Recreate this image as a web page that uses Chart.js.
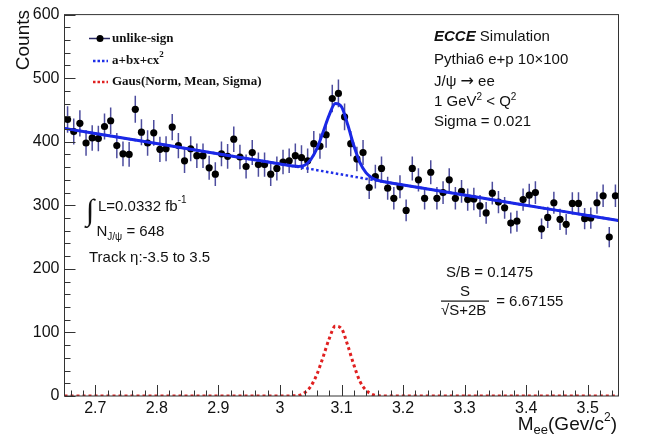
<!DOCTYPE html>
<html>
<head>
<meta charset="utf-8">
<script src="https://cdn.jsdelivr.net/npm/chart.js@4.4.0/dist/chart.umd.min.js"></script>
<style>
  html, body { margin: 0; padding: 0; background: #fff; }
</style>
</head>
<body>
<canvas id="massChart" width="648" height="438"></canvas>
<script>
// histogram bins (centres) and counts
const binCenters = [
  2.655, 2.665, 2.675, 2.685, 2.695, 2.705, 2.715, 2.725, 2.735, 2.745,
  2.755, 2.765, 2.775, 2.785, 2.795, 2.805, 2.815, 2.825, 2.835, 2.845,
  2.855, 2.865, 2.875, 2.885, 2.895, 2.905, 2.915, 2.925, 2.935, 2.945,
  2.955, 2.965, 2.975, 2.985, 2.995, 3.005, 3.015, 3.025, 3.035, 3.045,
  3.055, 3.065, 3.075, 3.085, 3.095, 3.105, 3.115, 3.125, 3.135, 3.145,
  3.155, 3.165, 3.175, 3.185, 3.195, 3.205, 3.215, 3.225, 3.235, 3.245,
  3.255, 3.265, 3.275, 3.285, 3.295, 3.305, 3.315, 3.325, 3.335, 3.345,
  3.355, 3.365, 3.375, 3.385, 3.395, 3.405, 3.415, 3.425, 3.435, 3.445,
  3.455, 3.465, 3.475, 3.485, 3.495, 3.505, 3.515, 3.525, 3.535, 3.545
];
const counts = [
  435, 416, 429, 398, 406, 405, 424, 433, 394, 381,
  380, 451, 415, 398, 414, 388, 389, 423, 394, 370,
  389, 378, 378, 359, 349, 381, 377, 404, 376, 361,
  383, 364, 364, 349, 358, 368, 370, 378, 375, 370,
  397, 393, 411, 468, 476, 439, 397, 373, 383, 328,
  345, 358, 327, 311, 329, 292, 358, 340, 311, 352,
  311, 320, 340, 311, 322, 309, 310, 299, 288, 319,
  305, 296, 272, 275, 309, 316, 320, 263, 281, 304,
  278, 270, 303, 303, 279, 280, 304, 315, 250, 315
];
const countErrors = [
  20.9, 20.4, 20.7, 19.9, 20.1, 20.1, 20.6, 20.8, 19.8, 19.5,
  19.5, 21.2, 20.4, 19.9, 20.3, 19.7, 19.7, 20.6, 19.8, 19.2,
  19.7, 19.4, 19.4, 18.9, 18.7, 19.5, 19.4, 20.1, 19.4, 19.0,
  19.6, 19.1, 19.1, 18.7, 18.9, 19.2, 19.2, 19.4, 19.4, 19.2,
  19.9, 19.8, 20.3, 21.6, 21.8, 21.0, 19.9, 19.3, 19.6, 18.1,
  18.6, 18.9, 18.1, 17.6, 18.1, 17.1, 18.9, 18.4, 17.6, 18.8,
  17.6, 17.9, 18.4, 17.6, 17.9, 17.6, 17.6, 17.3, 17.0, 17.9,
  17.5, 17.2, 16.5, 16.6, 17.6, 17.8, 17.9, 16.2, 16.8, 17.4,
  16.7, 16.4, 17.4, 17.4, 16.7, 16.7, 17.4, 17.7, 15.8, 17.7
];

// background fit a+bx+cx^2
const bgX = [2.65, 2.75, 2.85, 2.95, 3.05, 3.15, 3.25, 3.35, 3.45, 3.55];
const bgY = [421, 405, 389, 373, 357, 340, 324, 308, 292, 276];

// gaussian part (red dotted curve)
const gausX = [2.65, 3.0, 3.02, 3.03, 3.04, 3.05, 3.06, 3.07, 3.08, 3.09, 3.1, 3.11, 3.12, 3.13, 3.14, 3.15, 3.16, 3.17, 3.2, 3.55];
const gausY = [0, 0, 0.3, 1, 5, 15, 34, 61, 90, 110, 106, 80, 49, 23, 9, 2.5, 0.5, 0, 0, 0];

// total fit (solid blue)
const fitX = [2.65, 2.75, 2.85, 2.95, 3.0, 3.02, 3.03, 3.04, 3.05, 3.06, 3.07, 3.08, 3.09, 3.1, 3.11, 3.12, 3.13, 3.14, 3.15, 3.16, 3.17, 3.25, 3.35, 3.45, 3.55];
const fitY = [421, 405, 389, 373, 365, 362, 361, 363, 372, 389, 415, 442, 460, 455, 427, 394, 367, 351, 343, 339, 337, 324, 308, 292, 276];

const xTickValues = [2.7, 2.8, 2.9, 3.0, 3.1, 3.2, 3.3, 3.4, 3.5];
const yTickValues = [0, 100, 200, 300, 400, 500, 600];

const SANS = '"Liberation Sans", Arial, Helvetica, sans-serif';
const SERIF = '"Liberation Serif", "Times New Roman", serif';

function pairs(xs, ys) {
  return xs.map((x, i) => ({ x: x, y: ys[i] }));
}

// draws a row of text pieces, each with its own font and vertical shift
function drawPieces(ctx, x, y, pieces, align) {
  let total = 0;
  pieces.forEach(p => { ctx.font = p.font; p.w = ctx.measureText(p.text).width; total += p.w; });
  let cx = align === 'right' ? x - total : x;
  ctx.textAlign = 'left';
  pieces.forEach(p => {
    ctx.font = p.font;
    ctx.fillText(p.text, cx, y + (p.dy || 0));
    cx += p.w;
  });
  return total;
}

const errorBars = {
  id: 'errorBars',
  beforeDatasetsDraw(chart) {
    const { ctx, scales: { x, y } } = chart;
    ctx.save();
    ctx.strokeStyle = '#4d4d9e';
    ctx.lineWidth = 1.5;
    ctx.beginPath();
    for (let i = 0; i < binCenters.length; i++) {
      const px = x.getPixelForValue(binCenters[i]);
      ctx.moveTo(px, y.getPixelForValue(counts[i] + countErrors[i]));
      ctx.lineTo(px, y.getPixelForValue(counts[i] - countErrors[i]));
    }
    ctx.stroke();
    ctx.restore();
  }
};

// ROOT style frame with ticks pointing inward
const frameTicks = {
  id: 'frameTicks',
  afterDraw(chart) {
    const { ctx, chartArea: a, scales: { x, y } } = chart;
    ctx.save();
    ctx.strokeStyle = '#333';
    ctx.lineWidth = 1;
    ctx.strokeRect(a.left, a.top, a.right - a.left, a.bottom - a.top);
    ctx.beginPath();
    for (let v = 0; v <= 600; v += 20) {
      const py = Math.round(y.getPixelForValue(v)) + 0.5;
      const len = v % 100 === 0 ? 11 : 6;
      ctx.moveTo(a.left, py);
      ctx.lineTo(a.left + len, py);
    }
    for (let k = 133; k <= 177; k++) {
      const v = k / 50;
      const px = Math.round(x.getPixelForValue(v)) + 0.5;
      const len = k % 5 === 0 ? 11 : 5.5;
      ctx.moveTo(px, a.bottom);
      ctx.lineTo(px, a.bottom - len);
    }
    ctx.stroke();
    ctx.restore();
  }
};

const annotations = {
  id: 'annotations',
  afterDraw(chart) {
    const ctx = chart.ctx;
    ctx.save();
    ctx.fillStyle = '#111';
    ctx.textBaseline = 'middle';

    // axis titles
    ctx.save();
    ctx.translate(24, 10);
    ctx.rotate(-Math.PI / 2);
    ctx.font = '19px ' + SANS;
    ctx.textAlign = 'right';
    ctx.fillText('Counts', 0, 0);
    ctx.restore();

    drawPieces(ctx, 617, 425, [
      { text: 'M', font: '19px ' + SANS },
      { text: 'ee', font: '13px ' + SANS, dy: 5 },
      { text: '(Gev/c', font: '19px ' + SANS },
      { text: '2', font: '12px ' + SANS, dy: -7 },
      { text: ')', font: '19px ' + SANS }
    ], 'right');

    // legend
    const lf = 'bold 13px ' + SERIF;
    ctx.strokeStyle = '#2a2a66';
    ctx.lineWidth = 1.5;
    ctx.beginPath();
    ctx.moveTo(89, 38.5); ctx.lineTo(110, 38.5);
    ctx.stroke();
    ctx.beginPath();
    ctx.arc(100, 38.5, 3.5, 0, Math.PI * 2);
    ctx.fillStyle = '#000';
    ctx.fill();
    ctx.fillStyle = '#111';
    drawPieces(ctx, 112, 38.5, [{ text: 'unlike-sign', font: lf }]);

    ctx.lineWidth = 2.5;
    ctx.setLineDash([2.5, 2]);
    ctx.strokeStyle = '#1f2fe8';
    ctx.beginPath(); ctx.moveTo(93, 61); ctx.lineTo(108, 61); ctx.stroke();
    ctx.strokeStyle = '#e02020';
    ctx.beginPath(); ctx.moveTo(93, 82); ctx.lineTo(108, 82); ctx.stroke();
    ctx.setLineDash([]);
    drawPieces(ctx, 112, 61, [
      { text: 'a+bx+cx', font: lf },
      { text: '2', font: 'bold 9px ' + SERIF, dy: -6 }
    ]);
    drawPieces(ctx, 112, 82, [{ text: 'Gaus(Norm, Mean, Sigma)', font: lf }]);

    // right text block
    const tf = '15px ' + SANS;
    const sf = '10px ' + SANS;
    drawPieces(ctx, 434, 37, [
      { text: 'ECCE', font: 'italic bold 15px ' + SANS },
      { text: ' Simulation', font: tf }
    ]);
    drawPieces(ctx, 434, 60, [{ text: 'Pythia6 e+p 10\u00d7100', font: tf }]);
    drawPieces(ctx, 434, 81.5, [
      { text: 'J/\u03c8 ', font: tf },
      { text: '\u2192', font: '16px "DejaVu Sans", sans-serif' },
      { text: ' ee', font: tf }
    ]);
    drawPieces(ctx, 434, 102, [
      { text: '1 GeV', font: tf },
      { text: '2', font: sf, dy: -5 },
      { text: ' < Q', font: tf },
      { text: '2', font: sf, dy: -5 }
    ]);
    drawPieces(ctx, 434, 122, [{ text: 'Sigma = 0.021', font: tf }]);

    // left text block
    drawPieces(ctx, 86, 212, [{ text: '\u222b', font: '30px ' + SERIF }]);
    drawPieces(ctx, 98, 207, [
      { text: 'L=0.0332 fb', font: tf },
      { text: '-1', font: sf, dy: -7 }
    ]);
    drawPieces(ctx, 96.5, 232, [
      { text: 'N', font: tf },
      { text: 'J/\u03c8', font: sf, dy: 5 },
      { text: ' = 648', font: tf }
    ]);
    drawPieces(ctx, 89, 258, [{ text: 'Track \u03b7:-3.5 to 3.5', font: tf }]);

    // significance block
    drawPieces(ctx, 446, 273, [{ text: 'S/B = 0.1475', font: tf }]);
    drawPieces(ctx, 460, 292, [{ text: 'S', font: tf }]);
    ctx.fillRect(441, 300.5, 48, 1.2);
    drawPieces(ctx, 441, 311, [{ text: '\u221aS+2B', font: tf }]);
    drawPieces(ctx, 492, 302, [{ text: ' = 6.67155', font: tf }]);

    ctx.restore();
  }
};

const massChart = new Chart(document.getElementById('massChart'), {
  type: 'scatter',
  data: {
    datasets: [
      {
        label: 'unlike-sign',
        data: pairs(binCenters, counts),
        pointRadius: 3.6,
        pointBackgroundColor: '#000',
        pointBorderColor: '#000',
        pointBorderWidth: 0,
        showLine: false,
        order: 3
      },
      {
        type: 'line',
        label: 'a+bx+cx^2',
        data: pairs(bgX, bgY),
        borderColor: '#1f2fe8',
        borderWidth: 2.5,
        borderDash: [2.5, 2.5],
        pointRadius: 0,
        fill: false,
        order: 2
      },
      {
        type: 'line',
        label: 'fit',
        data: pairs(fitX, fitY),
        borderColor: '#1a28e6',
        borderWidth: 3,
        pointRadius: 0,
        cubicInterpolationMode: 'monotone',
        fill: false,
        order: 1
      },
      {
        type: 'line',
        label: 'Gaus(Norm, Mean, Sigma)',
        data: pairs(gausX, gausY),
        borderColor: '#e02020',
        borderWidth: 3,
        borderDash: [3, 3],
        pointRadius: 0,
        cubicInterpolationMode: 'monotone',
        fill: false,
        order: 0
      }
    ]
  },
  options: {
    responsive: false,
    animation: false,
    layout: { padding: { top: 10, right: 29.5, left: 0, bottom: 0 } },
    plugins: {
      legend: { display: false },
      tooltip: { enabled: false }
    },
    scales: {
      x: {
        type: 'linear',
        min: 2.65,
        max: 3.55,
        afterBuildTicks: s => { s.ticks = xTickValues.map(v => ({ value: v })); },
        afterFit: s => { s.height = 42; },
        grid: { display: false, drawTicks: false },
        border: { display: false },
        ticks: {
          autoSkip: false,
          maxRotation: 0,
          padding: 3,
          color: '#111',
          font: { family: SANS, size: 16 },
          callback: v => String(Number(v.toFixed(2)))
        }
      },
      y: {
        min: 0,
        max: 600,
        afterBuildTicks: s => { s.ticks = yTickValues.map(v => ({ value: v })); },
        afterFit: s => { s.width = 64.5; },
        grid: { display: false, drawTicks: false },
        border: { display: false },
        ticks: {
          padding: 5,
          color: '#111',
          font: { family: SANS, size: 16 }
        }
      }
    }
  },
  plugins: [errorBars, frameTicks, annotations]
});
</script>
</body>
</html>
